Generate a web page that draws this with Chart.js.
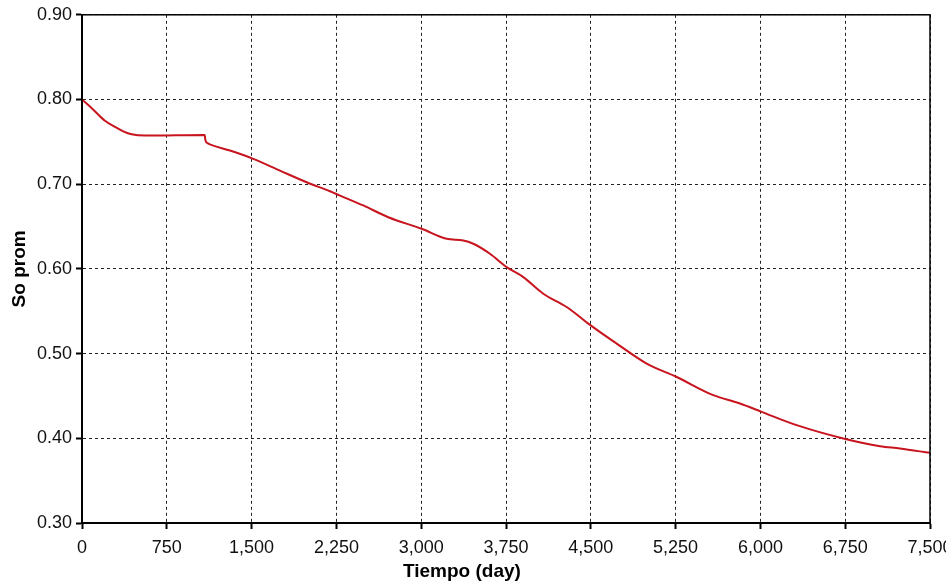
<!DOCTYPE html>
<html>
<head>
<meta charset="utf-8">
<script src="https://cdn.jsdelivr.net/npm/chart.js@4.4.1/dist/chart.umd.min.js"></script>
<style>
  html, body { margin: 0; padding: 0; background: #ffffff; overflow: hidden; }
  #wrap { width: 946px; height: 588px; position: relative; }
</style>
</head>
<body>
<div id="wrap"><canvas id="c" width="946" height="588"></canvas></div>
<script>
// ---- Data ----
const days = [0, 100, 203, 300, 365, 439, 557, 750, 900, 1085, 1092, 1110, 1161, 1309, 1515, 1751, 1987, 2193, 2282, 2488, 2709, 3004, 3225, 3372, 3461, 3608, 3756, 3903, 4080, 4286, 4404, 4478, 4729, 4994, 5259, 5583, 5819, 6011, 6321, 6733, 7058, 7234, 7500];
const soProm = [0.800, 0.788, 0.775, 0.767, 0.7624, 0.7589, 0.7574, 0.7575, 0.7578, 0.7580, 0.7515, 0.7485, 0.7456, 0.7397, 0.7299, 0.7160, 0.7023, 0.6917, 0.6866, 0.6749, 0.6610, 0.6474, 0.6356, 0.6336, 0.6297, 0.6179, 0.6021, 0.5903, 0.5707, 0.5550, 0.5432, 0.5354, 0.5118, 0.4882, 0.4724, 0.4509, 0.4411, 0.4312, 0.4155, 0.3998, 0.3907, 0.3880, 0.3828];
const xTicks = [0, 750, 1500, 2250, 3000, 3750, 4500, 5250, 6000, 6750, 7500];
const yTicks = [0.30, 0.40, 0.50, 0.60, 0.70, 0.80, 0.90];
const xTitle = 'Tiempo (day)';
const yTitle = 'So prom';

const FONT = '"Liberation Sans", Arial, sans-serif';

const frame = {
  id: 'frame',
  afterDatasetsDraw(chart) {
    const a = chart.chartArea, ctx = chart.ctx;
    ctx.save();
    ctx.strokeStyle = '#000';
    ctx.lineWidth = 1.5;
    ctx.strokeRect(a.left, a.top, a.right - a.left, a.bottom - a.top);
    ctx.restore();
  },
  afterDraw(chart) {
    const a = chart.chartArea, ctx = chart.ctx;
    ctx.save();
    ctx.font = 'bold 19px ' + FONT;
    ctx.fillStyle = '#000';
    ctx.textAlign = 'center';
    ctx.textBaseline = 'middle';
    ctx.fillText(xTitle, a.left + (a.right - a.left) * 0.448, a.bottom + 49);
    ctx.restore();
  }
};

new Chart(document.getElementById('c'), {
  type: 'line',
  data: {
    datasets: [{
      data: days.map((d, i) => ({ x: d, y: soProm[i] })),
      borderColor: '#c8141e',
      borderWidth: 2,
      pointRadius: 0,
      cubicInterpolationMode: 'monotone',
      fill: false
    }]
  },
  options: {
    responsive: false,
    animation: false,
    devicePixelRatio: 1,
    layout: { padding: { left: 0, right: 16, top: 14, bottom: 0 } },
    plugins: { legend: { display: false }, tooltip: { enabled: false } },
    scales: {
      x: {
        type: 'linear',
        min: 0, max: 7500,
        afterBuildTicks: s => { s.ticks = xTicks.map(v => ({ value: v })); },
        afterFit: s => { s.paddingRight = 0; s.paddingLeft = 0; s.height = 65; },
        ticks: {
          color: '#111',
          font: { family: FONT, size: 18 },
          padding: 8,
          maxRotation: 0,
          autoSkip: false,
          callback: v => Number(v).toLocaleString('en-US')
        },
        grid: { color: '#222', lineWidth: 1, tickLength: 6, tickColor: '#000', tickWidth: 2 },
        border: { display: true, color: '#000', width: 2, dash: [3, 3] },
        title: { display: false }
      },
      y: {
        type: 'linear',
        min: 0.3, max: 0.9,
        afterBuildTicks: s => { s.ticks = yTicks.map(v => ({ value: v })); },
        afterFit: s => { s.width = 82; },
        ticks: {
          color: '#111',
          font: { family: FONT, size: 18 },
          padding: 4,
          callback: v => Number(v).toFixed(2)
        },
        grid: { color: '#222', lineWidth: 1, tickLength: 6, tickColor: '#000', tickWidth: 2 },
        border: { display: true, color: '#000', width: 2, dash: [3, 3] },
        title: {
          display: true,
          text: yTitle,
          color: '#000',
          font: { family: FONT, size: 19, weight: 'bold' },
          padding: { top: 8, bottom: 0 }
        }
      }
    }
  },
  plugins: [frame]
});
</script>
</body>
</html>
